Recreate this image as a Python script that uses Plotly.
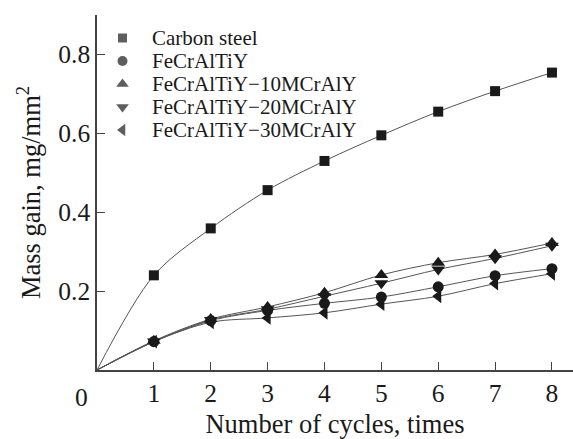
import plotly.graph_objects as go

cycles = [1, 2, 3, 4, 5, 6, 7, 8]
curve_x = [0, 1, 2, 3, 4, 5, 6, 7, 8]

names = ["Carbon steel", "FeCrAlTiY", "FeCrAlTiY\u221210MCrAlY",
         "FeCrAlTiY\u221220MCrAlY", "FeCrAlTiY\u221230MCrAlY"]
carbon_steel = [0.240, 0.359, 0.456, 0.530, 0.595, 0.655, 0.707, 0.754]
fecraltiy = [0.072, 0.125, 0.151, 0.169, 0.185, 0.211, 0.239, 0.257]
mcraly10 = [0.074, 0.129, 0.160, 0.196, 0.241, 0.272, 0.293, 0.322]
mcraly20 = [0.072, 0.127, 0.154, 0.187, 0.220, 0.255, 0.283, 0.315]
mcraly30 = [0.072, 0.121, 0.132, 0.145, 0.167, 0.187, 0.219, 0.244]
series = [carbon_steel, fecraltiy, mcraly10, mcraly20, mcraly30]
symbols = ["square", "circle", "triangle-up", "triangle-down", "triangle-left"]
sym_sizes = [10, 11, 12, 12, 12]

x_ticks = [1, 2, 3, 4, 5, 6, 7, 8]
y_ticks = [0.2, 0.4, 0.6, 0.8]
y_ticklabels = ["0.2", "0.4", "0.6", "0.8"]

FONT = "Liberation Serif, Times New Roman, serif"
INK = "#1a1a1a"

# plot-area geometry in pixels (used for the legend overlay)
L, R, T, B = 97, 573, 15, 370
legend_key_x = 122.5
legend_text_x = 150
legend_row_y = [T + 23 + 23 * i for i in range(len(names))]

fig = go.Figure()
for vals in series:
    fig.add_trace(go.Scatter(x=curve_x, y=[0] + vals, mode="lines",
                             line=dict(color="#555", width=1, shape="spline", smoothing=0.9),
                             showlegend=False, hoverinfo="skip"))
for name, vals, sym, sz in zip(names, series, symbols, sym_sizes):
    fig.add_trace(go.Scatter(x=cycles, y=vals, mode="markers", name=name,
                             showlegend=False,
                             marker=dict(symbol=sym, size=sz, color=INK, line=dict(width=0))))

# legend keys (drawn on a pixel overlay axis)
fig.add_trace(go.Scatter(x=[legend_key_x] * len(names), y=legend_row_y, mode="markers",
                         xaxis="x2", yaxis="y2", showlegend=False, hoverinfo="skip",
                         cliponaxis=False,
                         marker=dict(symbol=symbols, size=[s - 1 for s in sym_sizes],
                                     color=INK, line=dict(width=0))))
for name, yy in zip(names, legend_row_y):
    fig.add_annotation(x=legend_text_x, y=yy, xref="x2", yref="y2", text=name,
                       showarrow=False, xanchor="left", yanchor="middle",
                       font=dict(family=FONT, size=21, color=INK))

fig.update_layout(
    width=573, height=439,
    margin=dict(l=L, r=573 - R, t=T, b=439 - B),
    paper_bgcolor="white", plot_bgcolor="white",
    font=dict(family=FONT, color=INK),
    showlegend=False,
    xaxis=dict(range=[0, 8.37], tickvals=x_ticks, ticks="inside", ticklen=8,
               tickcolor="#444", showline=True, linecolor="#444", linewidth=1.5,
               showgrid=False, zeroline=False,
               tickfont=dict(family=FONT, size=25.5, color=INK),
               title=dict(text="Number of cycles, times",
                          font=dict(family=FONT, size=26.5, color=INK), standoff=10)),
    yaxis=dict(range=[0, 0.9], tickvals=y_ticks, ticktext=y_ticklabels,
               ticks="inside", ticklen=8, tickcolor="#444",
               showline=True, linecolor="#444", linewidth=1.5,
               showgrid=False, zeroline=False,
               tickfont=dict(family=FONT, size=25.5, color=INK),
               title=dict(text="Mass gain, mg/mm<sup>2</sup>",
                          font=dict(family=FONT, size=26.5, color=INK), standoff=10)),
    xaxis2=dict(overlaying="x", range=[L, R], visible=False, fixedrange=True),
    yaxis2=dict(overlaying="y", range=[B, T], visible=False, fixedrange=True),
)
fig.add_annotation(x=0, y=0, xref="x", yref="y", text="0", showarrow=False,
                   xshift=-16, yshift=-27, font=dict(family=FONT, size=25.5, color=INK))

fig.write_html("out.html")
